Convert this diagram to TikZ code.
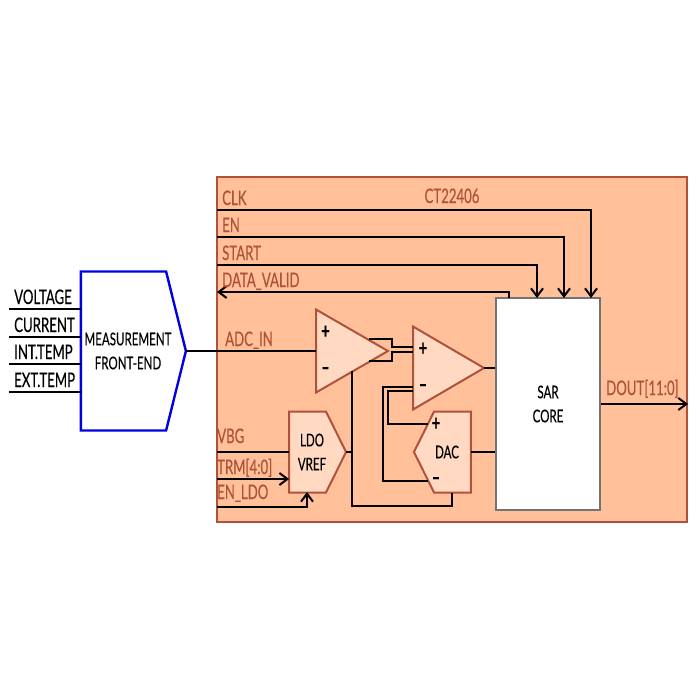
\documentclass[tikz,border=0pt]{standalone}
\usepackage{fontspec}
\setmainfont[FakeStretch=0.66,FakeBold=0.3]{Lato}
\usetikzlibrary{arrows.meta}
\usetikzlibrary{shapes.geometric, shapes.symbols}
\definecolor{chipfill}{HTML}{FFC09A}
\definecolor{blockfill}{HTML}{FFD9C2}
\definecolor{chipline}{HTML}{B0523A}
\tikzset{
	wire/.style={draw=black,line width=2pt},
	bus/.style={wire,-{Straight Barb[length=8pt,width=12pt,line width=2pt]}},
	chiplabel/.style={text=chipline,font=\fontsize{20}{20}\selectfont,inner sep=0pt},
	blocktext/.style={text=black,font=\fontsize{17.5}{24}\selectfont,align=center,inner sep=0pt},
	opamp/.style={isosceles triangle,isosceles triangle stretches,anchor=apex,draw=chipline,fill=blockfill,line width=2pt,inner sep=0pt,outer sep=0pt,minimum width=83pt,minimum height=72pt},
	pentagon/.style={signal,signal to=#1,signal from=nowhere,draw=chipline,fill=blockfill,line width=2pt,inner sep=0pt,outer sep=0pt,minimum width=57pt,minimum height=81pt,signal pointer angle=127},
	sign/.style={text=black,font=\bfseries\fontsize{22}{22}\selectfont,inner sep=0pt}
}
\begin{document}
\begin{tikzpicture}[x=1pt,y=-1pt]
\useasboundingbox (0,0) rectangle (700,699);
\node[draw=chipline,fill=chipfill,line width=2pt,inner sep=0pt,minimum width=470pt,minimum height=345pt] (chip) at (452,349.5) {};

\node[pentagon=east,draw=blue!90!black,line width=2.4pt,fill=white,minimum width=105pt,minimum height=159pt,signal pointer angle=152] (frontend) at (123.5,351) {};
\node[pentagon=east] (ldo) at (307.5,452) {};
\node[pentagon=west] (dac) at (452.5,452) {};
\node[opamp] (amp) at (388,351) {};
\node[opamp,minimum height=71pt] (cmp) at (484,368) {};
\node[draw=black!55,fill=white,line width=2pt,inner sep=0pt,minimum width=104pt,minimum height=212pt,blocktext] (sar) at (548,404) {SAR\\CORE};

\node[blocktext] (frontendtext) at (128,351) {MEASUREMENT\\FRONT-END};
\node[blocktext] (ldotext) at (312,452) {LDO\\VREF};
\node[blocktext] (dactext) at (447,452) {DAC};

% pads on the chip edge
\coordinate (clk) at (217,210);
\coordinate (en) at (217,237);
\coordinate (start) at (217,265);
\coordinate (valid) at (217,292);
\coordinate (vbg) at (217,452);
\coordinate (trm) at (217,479);
\coordinate (enldo) at (217,507);
\coordinate (dout) at (688,404);

% analog inputs
\foreach \name/\y in {VOLTAGE/309,CURRENT/337,INT.TEMP/364,EXT.TEMP/392}{
	\coordinate (in\y) at (9,\y);
	\draw[wire] (in\y) -- (in\y -| frontend.west);
	\node[chiplabel,text=black,anchor=base west] (lbl\y) at (14,\y-5) {\name};
}

\draw[bus] (clk) -| (591,298);
\draw[bus] (en) -| (564,298);
\draw[bus] (start) -| (537,298);
\draw[bus] (509,298) |- (valid);
\draw[wire] (frontend.east) -- (frontend.east -| amp.west);
\draw[wire] (vbg) -- (vbg -| ldo.west);
\draw[bus] (trm) -- (trm -| ldo.west);
\draw[bus] (enldo) -| (307,492);
\draw[wire] (ldo.east) -- (352,452);
\draw[wire] (352,371) |- (452,506) -- (452,493);

% differential pair between the amplifiers
\draw[wire] (369,339) -- (392,339) |- (413,347);
\draw[wire] (369,361) -- (392,361) |- (413,352);

\draw[wire] (413,387) -| (383,481) -- (428,481);
\draw[wire] (413,391) -| (388,424) -- (428,424);
\draw[wire] (cmp.apex) -- (cmp.apex -| sar.west);
\draw[wire] (dac.east) -- (dac.east -| sar.west);
\draw[bus] (sar.east) -- (dout);

\node[sign] (ampp) at (325.5,332) {+};
\node[sign] (ampm) at (325.5,371) {\textendash};
\node[sign] (cmpp) at (423,349) {+};
\node[sign] (cmpm) at (423,388) {\textendash};
\node[sign] (dacp) at (436,424) {+};
\node[sign] (dacm) at (436,481) {\textendash};

\node[chiplabel,anchor=base west] (lblclk) at (222,205) {CLK};
\node[chiplabel,anchor=base west] (lblen) at (222,232) {EN};
\node[chiplabel,anchor=base west] (lblstart) at (222,260) {START};
\node[chiplabel,anchor=base west] (lblvalid) at (222,287) {DATA\_VALID};
\node[chiplabel,anchor=base west] (lbladc) at (225,346) {ADC\_IN};
\node[chiplabel,anchor=base west] (lblvbg) at (217,443) {VBG};
\node[chiplabel,anchor=base west] (lbltrm) at (217,474) {TRM[4:0]};
\node[chiplabel,anchor=base west] (lblenldo) at (217,499) {EN\_LDO};
\node[chiplabel,anchor=base west] (lbldout) at (606,395) {DOUT[11:0]};
\node[chiplabel,anchor=base] (lblchip) at (452,203) {CT22406};
\end{tikzpicture}
\end{document}
